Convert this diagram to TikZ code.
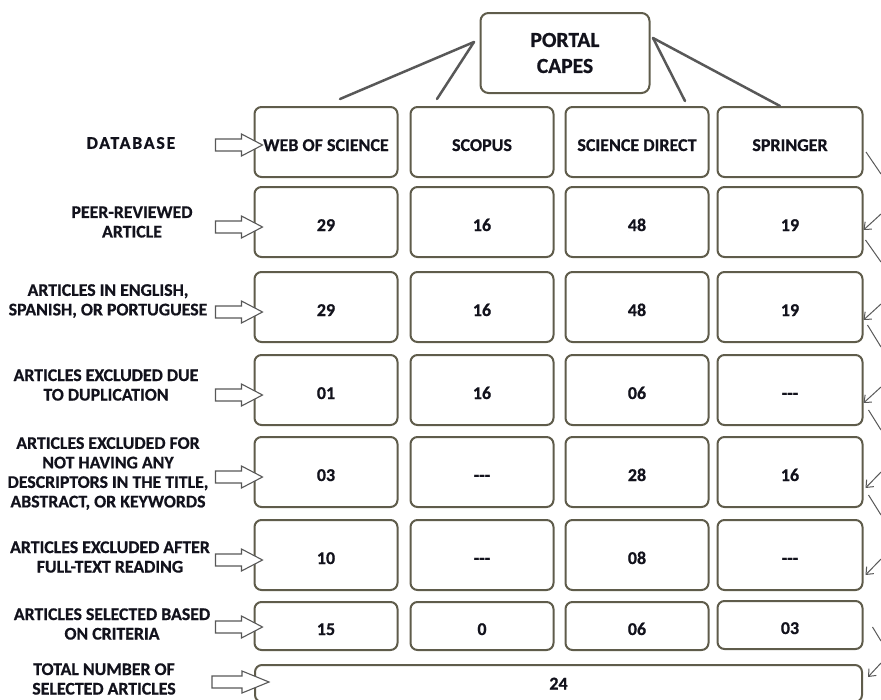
\documentclass[tikz,border=0pt]{standalone}
\usepackage{fontspec}
\setmainfont{Carlito}[BoldFeatures={FakeBold=0.7}]
\usetikzlibrary{calc,arrows.meta}
\definecolor{boxline}{RGB}{95,92,75}
\definecolor{conn}{RGB}{88,88,88}
\definecolor{txt}{RGB}{18,18,28}
\newcommand\blockarrow[2]{%
  \draw[blk] ($(#1.west)+(9,#2)$) -- ++(-21,-11) -- ++(0,5) -- ++(-26,0) -- ++(0,12) -- ++(26,0) -- ++(0,5) -- cycle;}
\newcommand\nodash{-{}-{}-}
\begin{document}
\begin{tikzpicture}[x=1pt,y=-1pt,
  cell/.style={draw=boxline, line width=2pt, rounded corners=7pt, minimum width=143pt,
    minimum height=70pt, inner sep=0pt, text height=18pt, text depth=0pt,
    font=\bfseries\fontsize{18}{20}\selectfont, text=txt, fill=white},
  shortcell/.style={cell, minimum height=48pt},
  lab/.style={align=center, font=\bfseries\fontsize{17.8}{19.5}\selectfont, text=txt, inner sep=0pt},
  link/.style={draw=conn, line width=2.5pt, line cap=round},
  outline/.style={draw=conn, line width=1pt},
  inarrow/.style={draw=conn, line width=1pt, -{Straight Barb[length=6pt,width=10pt]}},
  blk/.style={draw=conn, line width=1.1pt, fill=white, line join=miter}
]
\useasboundingbox (0,0) rectangle (881,699);
\clip (0,0) rectangle (881,699);

% top node
\node[draw=boxline, line width=2pt, rounded corners=8pt, minimum width=169pt, minimum height=80pt,
  align=center, inner sep=0pt, text=txt, fill=white,
  font=\bfseries\fontsize{21.5}{26}\selectfont] (portal) at (565,53) {PORTAL\\CAPES};

% columns: 326, 482, 637, 790
\node[cell] (r1c1) at (326,142) {WEB OF SCIENCE};
\node[cell] (r1c2) at (482,142) {SCOPUS};
\node[cell] (r1c3) at (637,142) {SCIENCE DIRECT};
\node[cell, minimum width=145pt] (r1c4) at (790,142) {SPRINGER};

\node[cell] (r2c1) at (326,222) {29};
\node[cell] (r2c2) at (482,222) {16};
\node[cell] (r2c3) at (637,222) {48};
\node[cell, minimum width=145pt] (r2c4) at (790,222) {19};

\node[cell] (r3c1) at (326,307) {29};
\node[cell] (r3c2) at (482,307) {16};
\node[cell] (r3c3) at (637,307) {48};
\node[cell, minimum width=145pt] (r3c4) at (790,307) {19};

\node[cell] (r4c1) at (326,390) {01};
\node[cell] (r4c2) at (482,390) {16};
\node[cell] (r4c3) at (637,390) {06};
\node[cell, minimum width=145pt] (r4c4) at (790,390) {\nodash};

\node[cell] (r5c1) at (326,472) {03};
\node[cell] (r5c2) at (482,472) {\nodash};
\node[cell] (r5c3) at (637,472) {28};
\node[cell, minimum width=145pt] (r5c4) at (790,472) {16};

\node[cell] (r6c1) at (326,555) {10};
\node[cell] (r6c2) at (482,555) {\nodash};
\node[cell] (r6c3) at (637,555) {08};
\node[cell, minimum width=145pt] (r6c4) at (790,555) {\nodash};

\node[shortcell] (r7c1) at (326,626) {15};
\node[shortcell] (r7c2) at (482,626) {0};
\node[shortcell] (r7c3) at (637,626) {06};
\node[shortcell, minimum width=145pt] (r7c4) at (790,625) {03};

\node[cell, minimum width=607pt, minimum height=37pt, text height=12pt] (total) at (558.5,683.5) {24};

% labels
\node[lab] (l1) at (131,143) {\addfontfeature{LetterSpace=10}DATABASE};
\node[lab] (l2) at (132,222) {PEER-REVIEWED\\ARTICLE};
\node[lab] (l3) at (108,301) {ARTICLES IN ENGLISH,\\SPANISH, OR PORTUGUESE};
\node[lab] (l4) at (106,385) {ARTICLES EXCLUDED DUE\\TO DUPLICATION};
\node[lab] (l5) at (108,473.5) {ARTICLES EXCLUDED FOR\\NOT HAVING ANY\\DESCRIPTORS IN THE TITLE,\\ABSTRACT, OR KEYWORDS};
\node[lab] (l6) at (110,557) {ARTICLES EXCLUDED AFTER\\FULL-TEXT READING};
\node[lab] (l7) at (112,624) {ARTICLES SELECTED BASED\\ON CRITERIA};
\node[lab] (l8) at (104,679) {TOTAL NUMBER OF\\SELECTED ARTICLES};

% block arrows from labels to boxes
\blockarrow{r1c1}{3}
\blockarrow{r2c1}{5}
\blockarrow{r3c1}{5}
\blockarrow{r4c1}{5}
\blockarrow{r5c1}{5}
\blockarrow{r6c1}{5}
\blockarrow{r7c1}{1}
\draw[blk] ($(total.west)+(15,-1.5)$) -- ++(-27,-11) -- ++(0,5) -- ++(-30,0) -- ++(0,12) -- ++(30,0) -- ++(0,5) -- cycle;

% portal links
\draw[link] ($(portal.west)+(-5.5,-11)$) -- ($(r1c1.north)+(14,-7)$);
\draw[link] ($(portal.west)+(-5.5,-11)$) -- ($(r1c2.north)+(-45,-7)$);
\draw[link] ($(portal.east)+(2.5,-15)$) -- ($(r1c3.north)+(48,-5)$);
\draw[link] ($(portal.east)+(2.5,-15)$) -- ($(r1c4.north)+(-10,0)$);

% right-side connectors leaving the frame
\coordinate (o1) at (881,174);
\coordinate (i2) at (881,214);
\coordinate (o2) at (881,262);
\coordinate (i3) at (881,304);
\coordinate (o3) at (881,347);
\coordinate (i4) at (881,387);
\coordinate (o4) at (881,430);
\coordinate (i5) at (881,472);
\coordinate (o5) at (881,515);
\coordinate (i6) at (881,559);
\coordinate (o7) at (881,641);
\coordinate (i8) at (881,663);

\draw[outline] ($(r1c4.east)+(2.5,10)$) -- (o1);
\draw[inarrow] (i2) -- ($(r2c4.east)+(0,8)$);
\draw[outline] ($(r2c4.east)+(2,18)$) -- (o2);
\draw[inarrow] (i3) -- ($(r3c4.east)+(0,13)$);
\draw[outline] ($(r3c4.east)+(4,18)$) -- (o3);
\draw[inarrow] (i4) -- ($(r4c4.east)+(0,13)$);
\draw[outline] ($(r4c4.east)+(5,20)$) -- (o4);
\draw[inarrow] (i5) -- ($(r5c4.east)+(2,16)$);
\draw[outline] ($(r5c4.east)+(5,23)$) -- (o5);
\draw[inarrow] (i6) -- ($(r6c4.east)+(2,20)$);
\draw[outline] ($(r7c4.east)+(9,2)$) -- (o7);
\draw[inarrow] (i8) -- ($(total.east)+(5,-6.5)$);
\end{tikzpicture}
\end{document}
